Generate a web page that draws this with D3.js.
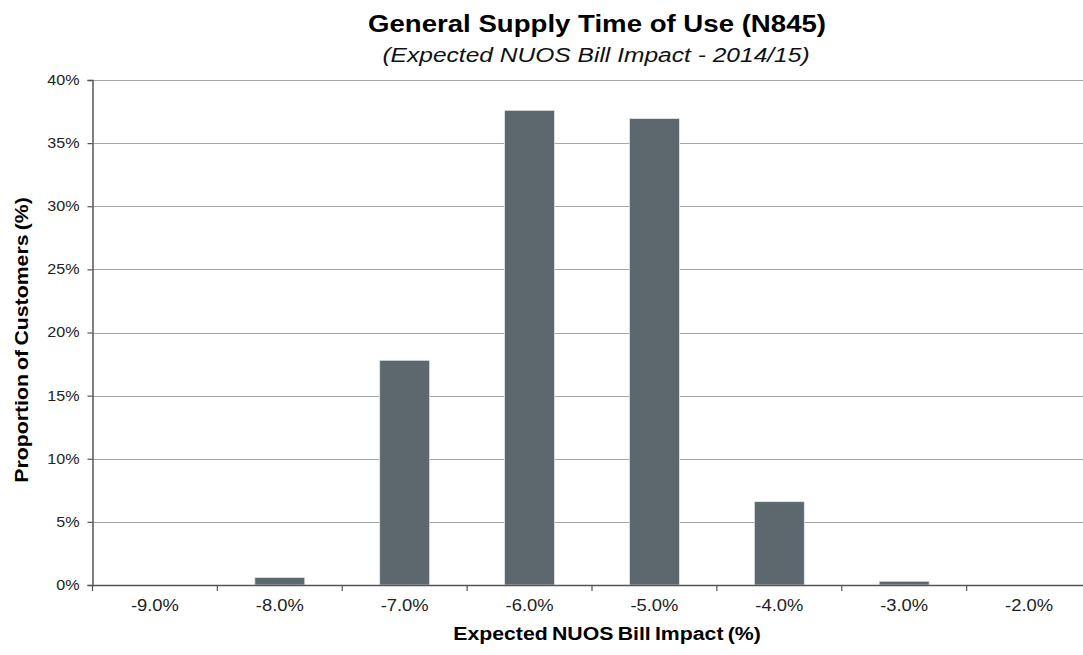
<!DOCTYPE html>
<html>
<head>
<meta charset="utf-8">
<script src="https://cdn.jsdelivr.net/npm/d3@7"></script>
<style>
  html, body { margin: 0; padding: 0; background: #fff; }
  svg { display: block; font-family: "Liberation Sans", Arial, sans-serif; }
</style>
</head>
<body>
<svg id="chart" width="1083" height="655"></svg>
<script>
// Bill impact buckets and share of customers in each
const categories = ["-9.0%", "-8.0%", "-7.0%", "-6.0%", "-5.0%", "-4.0%", "-3.0%", "-2.0%"];
const proportions = [0, 0.6, 17.8, 37.6, 36.95, 6.6, 0.3, 0];
const yTicks = [0, 5, 10, 15, 20, 25, 30, 35, 40];

const titleText = "General Supply Time of Use (N845)";
const subtitleText = "(Expected NUOS Bill Impact - 2014/15)";
const xLabel = "Expected NUOS Bill Impact (%)";
const yLabel = "Proportion of Customers (%)";

const svg = d3.select("#chart");
const margin = { left: 92.5, top: 80, right: 1091.5, bottom: 585 };

const x = d3.scaleBand()
  .domain(categories)
  .range([margin.left, margin.right])
  .paddingInner(0.6)
  .paddingOuter(0.3);

const y = d3.scaleLinear()
  .domain([0, 40])
  .range([margin.bottom, margin.top]);

// Horizontal gridlines
svg.append("g")
  .selectAll("line")
  .data(yTicks.filter(d => d > 0))
  .join("line")
  .attr("x1", margin.left)
  .attr("x2", margin.right)
  .attr("y1", d => Math.round(y(d)) + 0.5)
  .attr("y2", d => Math.round(y(d)) + 0.5)
  .attr("stroke", "#a6a6a6")
  .attr("stroke-width", 1);

// Bars
svg.append("g")
  .selectAll("rect")
  .data(categories.map((c, i) => ({ c, v: proportions[i] })))
  .join("rect")
  .attr("x", d => x(d.c))
  .attr("width", x.bandwidth())
  .attr("y", d => y(d.v))
  .attr("height", d => y(0) - y(d.v))
  .attr("fill", "#5c676e")
  .attr("stroke", "#e4e6e8")
  .attr("stroke-width", 0.8);

// Y axis
const yAxis = d3.axisLeft(y)
  .tickValues(yTicks)
  .tickFormat(d => d + "%")
  .tickSize(5)
  .tickPadding(0);
const gy = svg.append("g")
  .attr("transform", `translate(${margin.left},0)`)
  .call(yAxis);
gy.select(".domain").attr("stroke", "#555").attr("stroke-width", 1.5);
gy.selectAll(".tick line").attr("stroke", "#555").attr("stroke-width", 1.2);
gy.selectAll(".tick text")
  .attr("x", 0)
  .attr("transform", "translate(-13,0) scale(1.15,1)")
  .attr("font-size", 14).attr("fill", "#222")
  .attr("font-family", "'Liberation Sans', Arial, sans-serif");

// X axis: category labels, separator ticks between bands
const xAxis = d3.axisBottom(x).tickSize(0).tickPadding(15);
const gx = svg.append("g")
  .attr("transform", `translate(0,${margin.bottom})`)
  .call(xAxis);
gx.select(".domain").attr("stroke", "#555").attr("stroke-width", 1.5);
gx.selectAll(".tick text")
  .attr("transform", "scale(1.15,1)")
  .attr("text-anchor", "middle")
  .attr("font-size", 16).attr("fill", "#222")
  .attr("font-family", "'Liberation Sans', Arial, sans-serif");

const step = x.step();
const bounds = d3.range(categories.length + 1).map(i => margin.left + i * step);
gx.selectAll("line.sep")
  .data(bounds)
  .join("line")
  .attr("class", "sep")
  .attr("x1", d => d).attr("x2", d => d)
  .attr("y1", 0).attr("y2", 6)
  .attr("stroke", "#555").attr("stroke-width", 1.2);

// Titles (horizontally widened type)
function label(txt, tx, ty, size, sx, opts) {
  const t = svg.append("text")
    .attr("transform", `translate(${tx},${ty}) scale(${sx},1)`)
    .attr("text-anchor", "middle")
    .attr("font-size", size)
    .attr("fill", "#000")
    .text(txt);
  if (opts.bold) t.attr("font-weight", "bold");
  if (opts.italic) t.attr("font-style", "italic");
  return t;
}
label(titleText, 597, 32, 24, 1.15, { bold: true });
label(subtitleText, 596, 62, 21, 1.17, { italic: true }).attr("fill", "#111");
label(xLabel, 607, 640, 19, 1.12, { bold: true }).attr("word-spacing", -1.5);

svg.append("text")
  .attr("transform", `translate(28,340) rotate(-90) scale(1.12,1)`)
  .attr("text-anchor", "middle")
  .attr("font-size", 19).attr("font-weight", "bold")
  .attr("word-spacing", -1.5)
  .attr("fill", "#000")
  .text(yLabel);
</script>
</body>
</html>
